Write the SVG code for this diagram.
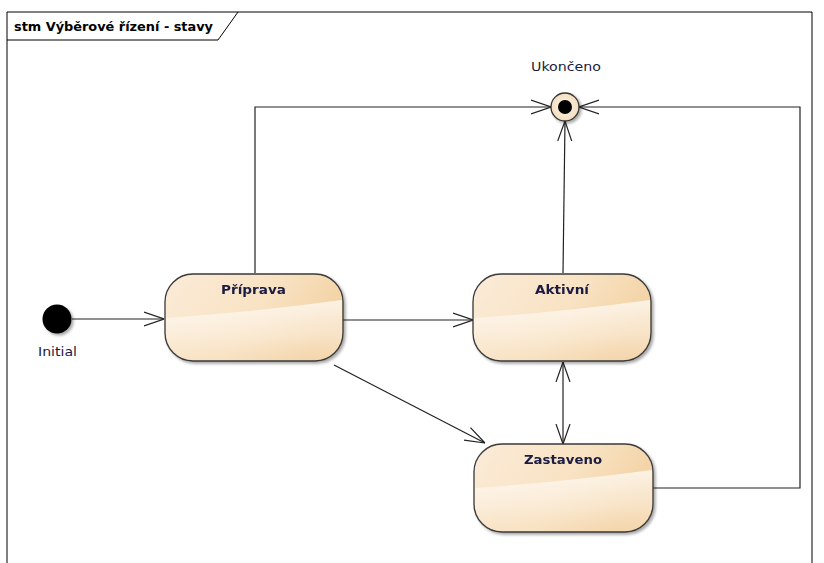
<svg xmlns="http://www.w3.org/2000/svg" width="824" height="563" viewBox="0 0 824 563">
  <style>
    .frame { fill: none; stroke: #000; stroke-width: 1; }
    .title { font-family: "DejaVu Sans", Verdana, sans-serif; font-size: 12px; font-weight: bold; fill: #000; }
    .label { font-family: "DejaVu Sans", Verdana, sans-serif; font-size: 12px; fill: #1a1a40; }
    .sname { font-family: "DejaVu Sans", Verdana, sans-serif; font-size: 13px; font-weight: bold; fill: #1a1a40; }
    .outline { fill: none; stroke: #3a3a3a; stroke-width: 1.3; }
    .edge { fill: none; stroke: #222; stroke-width: 1.2; }
  </style>
  <defs>
    <linearGradient id="baseFill" x1="0" y1="0" x2="1" y2="0.35">
      <stop offset="0" stop-color="#FBEBD8"/>
      <stop offset="0.6" stop-color="#F8E2C2"/>
      <stop offset="1" stop-color="#F3D2A4"/>
    </linearGradient>
    <linearGradient id="gloss" x1="0" y1="0" x2="0" y2="1">
      <stop offset="0" stop-color="#FFFFFF" stop-opacity="0.7"/>
      <stop offset="0.6" stop-color="#FDF3E6" stop-opacity="0.5"/>
      <stop offset="1" stop-color="#F7E0C0" stop-opacity="0.3"/>
    </linearGradient>
    <radialGradient id="finalFill" cx="0.5" cy="0.5" r="0.5">
      <stop offset="0" stop-color="#FFF6EA"/>
      <stop offset="1" stop-color="#F3DDBE"/>
    </radialGradient>
    <filter id="shadow" x="-10%" y="-10%" width="125%" height="130%">
      <feGaussianBlur in="SourceAlpha" stdDeviation="1.5"/>
      <feOffset dx="2" dy="2" result="b"/>
      <feComponentTransfer><feFuncA type="linear" slope="0.35"/></feComponentTransfer>
      <feMerge><feMergeNode/><feMergeNode in="SourceGraphic"/></feMerge>
    </filter>
    <marker id="open" viewBox="0 0 20 16" refX="20" refY="8" markerWidth="20" markerHeight="16" markerUnits="userSpaceOnUse" orient="auto-start-reverse">
      <path d="M0,1 L20,8 L0,15" fill="none" stroke="#222" stroke-width="1.2"/>
    </marker>
  </defs>

  <!-- Diagram frame with name tab -->
  <g id="frame">
    <path class="frame" d="M7,563 V12 H812 V563"/>
    <path class="frame" d="M7,40 H218 L238,12"/>
    <text class="title" x="14" y="31" textLength="199" lengthAdjust="spacingAndGlyphs">stm Výběrové řízení - stavy</text>
  </g>

  <!-- Transitions -->
  <g id="connectors">
    <path class="edge" d="M72,319 H164" marker-end="url(#open)"/>
    <path class="edge" d="M255,273 V107 H551" marker-end="url(#open)"/>
    <path class="edge" d="M343,320 H473" marker-end="url(#open)"/>
    <path class="edge" d="M334,365 L485,443" marker-end="url(#open)"/>
    <path class="edge" d="M563,273 L565,121" marker-end="url(#open)"/>
    <path class="edge" d="M563,362 V444" marker-start="url(#open)" marker-end="url(#open)"/>
    <path class="edge" d="M653,488 H800 V107 H579" marker-end="url(#open)"/>
  </g>

  <!-- Initial pseudo-state -->
  <g id="initial">
    <circle cx="57" cy="319" r="14.5" fill="#000" filter="url(#shadow)"/>
    <text class="label" x="38" y="356" textLength="39" lengthAdjust="spacingAndGlyphs">Initial</text>
  </g>

  <!-- Final state -->
  <g id="ukonceno">
    <text class="label" x="531" y="71" textLength="70" lengthAdjust="spacingAndGlyphs">Ukončeno</text>
    <circle cx="565" cy="107" r="14" fill="url(#finalFill)" stroke="#333" stroke-width="1.3" filter="url(#shadow)"/>
    <circle cx="565" cy="107" r="7" fill="#000"/>
  </g>

  <!-- States -->
  <g id="priprava" filter="url(#shadow)">
    <rect x="165" y="274" width="178" height="87" rx="28" fill="url(#baseFill)"/>
    <path d="M166,318 Q254,312 342,300 V333 A27,27 0 0 1 315,360 H193 A27,27 0 0 1 166,333 Z" fill="url(#gloss)"/>
    <rect class="outline" x="165" y="274" width="178" height="87" rx="28"/>
    <text class="sname" x="221" y="294" textLength="65" lengthAdjust="spacingAndGlyphs">Příprava</text>
  </g>

  <g id="aktivni" filter="url(#shadow)">
    <rect x="473" y="274" width="178" height="87" rx="28" fill="url(#baseFill)"/>
    <path d="M474,318 Q562,312 650,300 V333 A27,27 0 0 1 623,360 H501 A27,27 0 0 1 474,333 Z" fill="url(#gloss)"/>
    <rect class="outline" x="473" y="274" width="178" height="87" rx="28"/>
    <text class="sname" x="535" y="294" textLength="54" lengthAdjust="spacingAndGlyphs">Aktivní</text>
  </g>

  <g id="zastaveno" filter="url(#shadow)">
    <rect x="474" y="444" width="179" height="88" rx="28" fill="url(#baseFill)"/>
    <path d="M475,488 Q563,482 652,470 V504 A27,27 0 0 1 625,531 H502 A27,27 0 0 1 475,504 Z" fill="url(#gloss)"/>
    <rect class="outline" x="474" y="444" width="179" height="88" rx="28"/>
    <text class="sname" x="524" y="464" textLength="78" lengthAdjust="spacingAndGlyphs">Zastaveno</text>
  </g>
</svg>
